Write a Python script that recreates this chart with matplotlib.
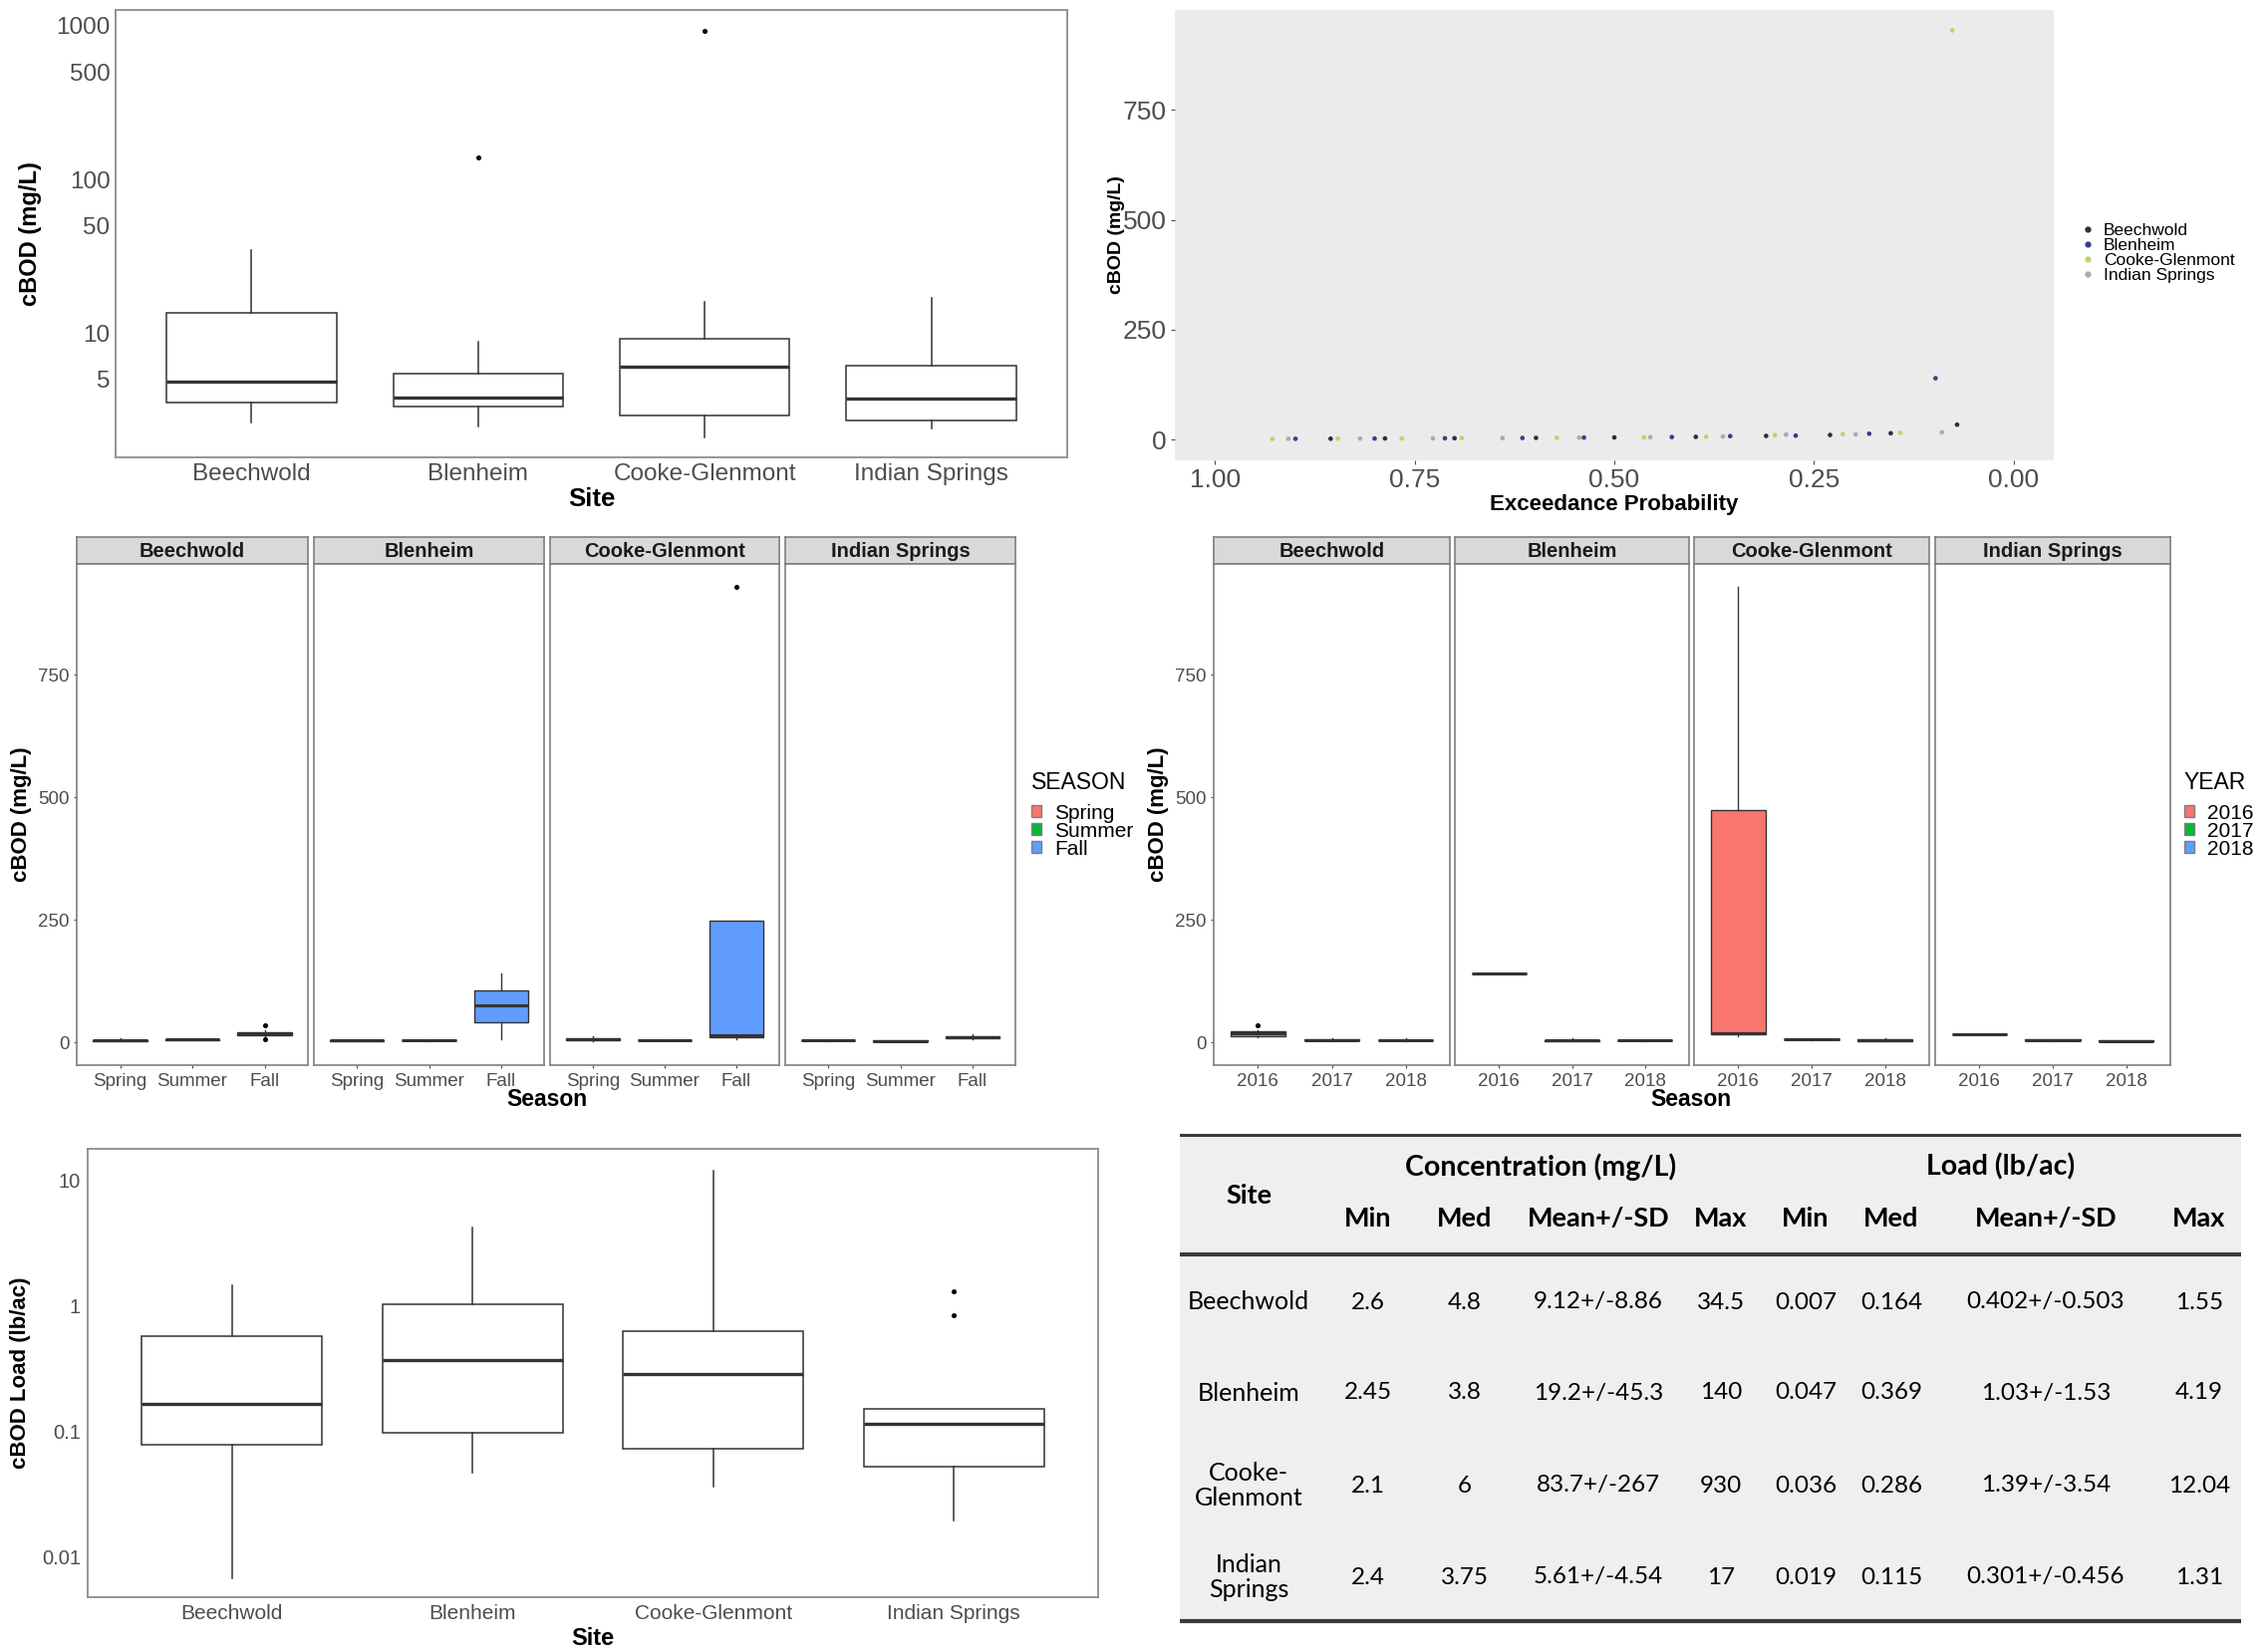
import matplotlib
matplotlib.use("Agg")
import matplotlib.pyplot as plt
from matplotlib.lines import Line2D
from matplotlib.patches import Patch

plt.rcParams["font.family"] = ["Liberation Sans", "DejaVu Sans"]

W, H, DPI = 2276, 1657, 100

sites = ["Beechwold", "Blenheim", "Cooke-Glenmont", "Indian Springs"]

# ---- Panel A: concentration by site (mg/L), log scale
conc_whislo = [2.6, 2.45, 2.1, 2.4]
conc_q1 = [3.5, 3.3, 2.9, 2.7]
conc_med = [4.8, 3.8, 6.0, 3.75]
conc_q3 = [13.5, 5.45, 9.2, 6.1]
conc_whishi = [34.5, 8.8, 16.0, 17.0]
conc_fliers = [[], [140], [930], []]
conc_ticks = [5, 10, 50, 100, 500, 1000]

# ---- Panel B: exceedance probability
exc_prob = [0.928, 0.908, 0.899, 0.855, 0.846, 0.818, 0.800, 0.787, 0.766, 0.727,
            0.712, 0.700, 0.691, 0.640, 0.615, 0.598, 0.572, 0.544, 0.538, 0.500,
            0.463, 0.455, 0.428, 0.398, 0.385, 0.364, 0.355, 0.310, 0.299, 0.285,
            0.273, 0.230, 0.214, 0.198, 0.181, 0.154, 0.142, 0.098, 0.090, 0.077,
            0.071]
exc_value = [2.1, 2.4, 2.45, 2.6, 2.7, 2.9, 3.0, 3.2, 3.3, 3.5,
             3.6, 3.7, 3.8, 4.0, 4.3, 4.5, 4.8, 5.0, 5.2, 5.5,
             5.8, 6.0, 6.4, 6.8, 7.2, 7.8, 8.5, 9.0, 10.5, 12.0,
             9.5, 11.0, 13.0, 12.5, 14.0, 15.0, 16.0, 140.0, 17.0, 930.0,
             34.5]
exc_site = ["Cooke-Glenmont", "Indian Springs", "Blenheim", "Beechwold", "Cooke-Glenmont",
            "Indian Springs", "Blenheim", "Beechwold", "Cooke-Glenmont", "Indian Springs",
            "Blenheim", "Beechwold", "Cooke-Glenmont", "Indian Springs", "Blenheim",
            "Beechwold", "Cooke-Glenmont", "Indian Springs", "Blenheim", "Beechwold",
            "Cooke-Glenmont", "Indian Springs", "Blenheim", "Beechwold", "Cooke-Glenmont",
            "Indian Springs", "Blenheim", "Beechwold", "Cooke-Glenmont", "Indian Springs",
            "Blenheim", "Beechwold", "Cooke-Glenmont", "Indian Springs", "Blenheim",
            "Beechwold", "Cooke-Glenmont", "Blenheim", "Indian Springs", "Cooke-Glenmont",
            "Beechwold"]
site_colors = ["#2E2E3A", "#34408C", "#C9CF63", "#ABABAB"]
exc_xticks = [1.0, 0.75, 0.5, 0.25, 0.0]
exc_xticklabels = ["1.00", "0.75", "0.50", "0.25", "0.00"]
lin_ticks = [0, 250, 500, 750]

# ---- Panel C: concentration by season within site
seasons = ["Spring", "Summer", "Fall"]
season_colors = ["#F8766D", "#00BA38", "#619CFF"]
season_whislo = [[2.6, 4.0, 12.0], [2.45, 3.0, 6.0], [3.0, 3.5, 6.0], [3.0, 2.4, 6.0]]
season_q1 = [[3.2, 4.5, 14.0], [3.0, 3.5, 40.0], [5.0, 4.0, 10.0], [3.5, 2.6, 8.0]]
season_med = [[4.0, 5.5, 17.0], [3.5, 4.2, 75.0], [7.0, 4.5, 15.0], [4.0, 3.0, 10.0]]
season_q3 = [[4.8, 6.5, 20.0], [4.0, 4.8, 107.0], [9.0, 5.0, 248.0], [5.0, 3.5, 13.0]]
season_whishi = [[8.5, 7.0, 24.0], [4.5, 5.5, 140.0], [12.0, 5.5, 248.0], [6.0, 4.0, 17.0]]
season_fliers = [[[], [], [34.5, 5.5]], [[], [], []], [[], [], [930]], [[], [], []]]

# ---- Panel D: concentration by year within site
years = ["2016", "2017", "2018"]
year_colors = ["#F8766D", "#00BA38", "#619CFF"]
year_whislo = [[10.0, 2.6, 3.0], [140.0, 2.45, 3.0], [12.0, 5.0, 2.1], [17.0, 3.0, 2.4]]
year_q1 = [[13.0, 4.0, 3.5], [140.0, 3.0, 3.5], [16.0, 5.5, 2.5], [17.0, 4.0, 2.6]]
year_med = [[18.0, 5.0, 4.2], [140.0, 3.8, 4.0], [18.0, 6.0, 4.0], [17.0, 5.0, 3.0]]
year_q3 = [[22.0, 6.0, 5.0], [140.0, 4.5, 4.5], [474.0, 6.5, 6.0], [17.0, 6.0, 3.5]]
year_whishi = [[25.0, 9.0, 8.0], [140.0, 9.0, 5.0], [930.0, 7.0, 8.0], [17.0, 7.0, 4.0]]
year_fliers = [[[34.5], [], []], [[], [], []], [[], [], []], [[], [], []]]

# ---- Panel E: load by site (lb/ac), log scale
load_whislo = [0.0067, 0.047, 0.036, 0.0195]
load_q1 = [0.0776, 0.0975, 0.072, 0.052]
load_med = [0.164, 0.369, 0.286, 0.115]
load_q3 = [0.578, 1.03, 0.625, 0.15]
load_whishi = [1.47, 4.19, 12.04, 0.15]
load_fliers = [[], [], [], [1.31, 0.85]]
load_ticks = [0.01, 0.1, 1, 10]
load_ticklabels = ["0.01", "0.1", "1", "10"]

# ---- Panel F: summary table
tbl_sites = ["Beechwold", "Blenheim", "Cooke-\nGlenmont", "Indian\nSprings"]
tbl_c_min = ["2.6", "2.45", "2.1", "2.4"]
tbl_c_med = ["4.8", "3.8", "6", "3.75"]
tbl_c_mean = ["9.12+/-8.86", "19.2+/-45.3", "83.7+/-267", "5.61+/-4.54"]
tbl_c_max = ["34.5", "140", "930", "17"]
tbl_l_min = ["0.007", "0.047", "0.036", "0.019"]
tbl_l_med = ["0.164", "0.369", "0.286", "0.115"]
tbl_l_mean = ["0.402+/-0.503", "1.03+/-1.53", "1.39+/-3.54", "0.301+/-0.456"]
tbl_l_max = ["1.55", "4.19", "12.04", "1.31"]
tbl_subheads = ["Min", "Med", "Mean+/-SD", "Max", "Min", "Med", "Mean+/-SD", "Max"]

TICK_C = "#4D4D4D"
FRAME_C = "#8C8C8C"
BOX_C = "#333333"

fig = plt.figure(figsize=(W / DPI, H / DPI), dpi=DPI)
fig.patch.set_facecolor("white")


def px_axes(x0, y0, x1, y1, **kw):
    return fig.add_axes([x0 / W, 1 - y1 / H, (x1 - x0) / W, (y1 - y0) / H], **kw)


def stats(lo, q1, med, q3, hi, fl):
    return [dict(whislo=a, q1=b, med=c, q3=d, whishi=e, fliers=f)
            for a, b, c, d, e, f in zip(lo, q1, med, q3, hi, fl)]


def frame(ax, color=FRAME_C, lw=1.3):
    for s in ax.spines.values():
        s.set_color(color)
        s.set_linewidth(lw)


def draw_box(ax, st, colors=None, width=0.75, lw=1.1, medlw=2.4):
    b = ax.bxp(st, positions=range(1, len(st) + 1), widths=width, patch_artist=True,
               showfliers=True, showcaps=False,
               boxprops=dict(linewidth=lw, edgecolor=BOX_C, facecolor="white"),
               whiskerprops=dict(linewidth=lw, color=BOX_C),
               medianprops=dict(linewidth=medlw, color=BOX_C),
               flierprops=dict(marker="o", markersize=2.6, markerfacecolor="black",
                               markeredgecolor="black"))
    if colors is not None:
        for p, c in zip(b["boxes"], colors):
            p.set_facecolor(c)
    return b


# ================= Panel A =================
axA = px_axes(116, 10, 1071, 459)
draw_box(axA, stats(conc_whislo, conc_q1, conc_med, conc_q3, conc_whishi, conc_fliers))
axA.set_yscale("log")
axA.set_ylim(1.55, 1270)
axA.set_xlim(0.4, 4.6)
axA.set_yticks(conc_ticks)
axA.set_yticklabels([str(t) for t in conc_ticks])
axA.minorticks_off()
axA.set_xticks(range(1, 5))
axA.set_xticklabels(sites)
axA.tick_params(length=0, labelsize=17.5, colors=TICK_C, pad=4)
axA.tick_params(axis="y", labelsize=17.5)
frame(axA)
axA.set_xlabel("Site", fontsize=18.5, fontweight="bold", labelpad=2)
axA.set_ylabel("cBOD (mg/L)", fontsize=17, fontweight="bold", labelpad=10)

# ================= Panel B =================
axB = px_axes(1179, 10, 2061, 462)
axB.set_facecolor("#EBEBEB")
for s, c in zip(sites, site_colors):
    xs = [p for p, ss in zip(exc_prob, exc_site) if ss == s]
    ys = [v for v, ss in zip(exc_value, exc_site) if ss == s]
    axB.scatter(xs, ys, s=11, color=c, edgecolors="none", label=s, zorder=3)
axB.set_xlim(1.05, -0.05)
axB.set_ylim(-46.5, 976.5)
axB.set_xticks(exc_xticks)
axB.set_xticklabels(exc_xticklabels)
axB.set_yticks(lin_ticks)
for s in axB.spines.values():
    s.set_visible(False)
axB.tick_params(length=3, colors=TICK_C, labelsize=19, pad=3)
axB.set_xlabel("Exceedance Probability", fontsize=16, fontweight="bold", labelpad=1)
axB.set_ylabel("cBOD (mg/L)", fontsize=14, fontweight="bold", labelpad=-2)
legB = axB.legend(handles=[Line2D([], [], marker="o", linestyle="none", markersize=3.5,
                                  color=c, label=s) for s, c in zip(sites, site_colors)],
                  loc="upper left", bbox_to_anchor=(2078 / W, 1 - 215 / H),
                  bbox_transform=fig.transFigure, frameon=False, fontsize=12.5,
                  labelspacing=0.0, handletextpad=0.4, handlelength=1.0, borderpad=0)


# ================= Facet panels C & D =================
def facets(xranges, groups, colors, lo, q1, med, q3, hi, fl):
    axs = []
    for i, (x0, x1) in enumerate(xranges):
        strip = px_axes(x0, 539, x1, 566)
        strip.set_facecolor("#D9D9D9")
        strip.set_xticks([])
        strip.set_yticks([])
        frame(strip, color="#7F7F7F", lw=1.2)
        strip.text(0.5, 0.45, sites[i], transform=strip.transAxes, ha="center", va="center",
                   fontsize=14.5, fontweight="bold", color="#1A1A1A")
        ax = px_axes(x0, 566, x1, 1069)
        draw_box(ax, stats(lo[i], q1[i], med[i], q3[i], hi[i], fl[i]), colors=colors,
                 width=0.75, lw=1.0, medlw=2.2)
        ax.set_xlim(0.4, 3.6)
        ax.set_ylim(-46.5, 976.5)
        ax.set_xticks(range(1, 4))
        ax.set_xticklabels(groups)
        ax.set_yticks(lin_ticks)
        ax.tick_params(length=2.5, colors=TICK_C, labelsize=13.5, pad=3)
        if i > 0:
            ax.tick_params(axis="y", labelleft=False, length=0)
        frame(ax, color="#7F7F7F", lw=1.2)
        axs.append(ax)
    return axs


C_x = [(77, 309), (315, 546), (552, 782), (788, 1019)]
D_x = [(1218, 1455), (1460, 1695), (1700, 1936), (1942, 2178)]
axC = facets(C_x, seasons, season_colors, season_whislo, season_q1, season_med,
             season_q3, season_whishi, season_fliers)
axD = facets(D_x, years, year_colors, year_whislo, year_q1, year_med,
             year_q3, year_whishi, year_fliers)
axC[0].set_ylabel("cBOD (mg/L)", fontsize=16, fontweight="bold", labelpad=4)
axD[0].set_ylabel("cBOD (mg/L)", fontsize=16, fontweight="bold", labelpad=4)
fig.text(549 / W, 1 - 1104 / H, "Season", ha="center", va="center", fontsize=16.5,
         fontweight="bold")
fig.text(1697 / W, 1 - 1104 / H, "Season", ha="center", va="center", fontsize=16.5,
         fontweight="bold")


def box_legend(title, labels, colors, x, y):
    lg = fig.legend(handles=[Patch(facecolor=c, edgecolor="#7F7F7F", label=l)
                             for l, c in zip(labels, colors)],
                    title=title, loc="upper left", bbox_to_anchor=(x / W, 1 - y / H),
                    frameon=False, fontsize=15, title_fontsize=16.5, alignment="left",
                    handlelength=0.5, handleheight=0.5, handletextpad=0.6,
                    labelspacing=-0.05, borderpad=0, borderaxespad=0)
    lg._legend_box.sep = 7
    return lg


box_legend("SEASON", seasons, season_colors, 1035, 774)
box_legend("YEAR", years, year_colors, 2192, 774)

# ================= Panel E =================
axE = px_axes(88, 1153, 1102, 1603)
draw_box(axE, stats(load_whislo, load_q1, load_med, load_q3, load_whishi, load_fliers))
axE.set_yscale("log")
axE.set_ylim(0.00473, 17.96)
axE.set_xlim(0.4, 4.6)
axE.set_yticks(load_ticks)
axE.set_yticklabels(load_ticklabels)
axE.minorticks_off()
axE.set_xticks(range(1, 5))
axE.set_xticklabels(sites)
axE.tick_params(length=0, labelsize=15, colors=TICK_C, pad=5)
axE.tick_params(axis="y", labelsize=14.5)
frame(axE)
axE.set_xlabel("Site", fontsize=17, fontweight="bold", labelpad=3)
axE.set_ylabel("cBOD Load (lb/ac)", fontsize=16, fontweight="bold", labelpad=8)

# ================= Panel F: table =================
axT = px_axes(1184, 1130, 2249, 1640)
axT.set_xlim(1184, 2249)
axT.set_ylim(1640, 1130)
axT.axis("off")
axT.axhspan(1139, 1627, color="#EFEFEF", zorder=0)
axT.axhline(1139, color="#3A3A3A", lw=2.2)
axT.axhline(1259, color="#3A3A3A", lw=3)
axT.axhline(1627, color="#3A3A3A", lw=3)
tf = ["Lato", "DejaVu Sans"]
col_x = [1373, 1470, 1604, 1727, 1812, 1898, 2053, 2207]
axT.text(1253, 1200, "Site", ha="center", va="center", fontsize=19.5, fontweight="bold",
         family=tf)
axT.text(1546, 1171, "Concentration (mg/L)", ha="center", va="center", fontsize=20.5,
         fontweight="bold", family=tf)
axT.text(2008, 1171, "Load (lb/ac)", ha="center", va="center", fontsize=20.5,
         fontweight="bold", family=tf)
for x, s in zip(col_x, tbl_subheads):
    axT.text(x, 1223, s, ha="center", va="center", fontsize=19.5, fontweight="bold", family=tf)
row_y = [1307, 1398, 1491, 1583]
cols = [tbl_c_min, tbl_c_med, tbl_c_mean, tbl_c_max, tbl_l_min, tbl_l_med, tbl_l_mean,
        tbl_l_max]
for r, y in enumerate(row_y):
    axT.text(1253, y, tbl_sites[r], ha="center", va="center", fontsize=18, family=tf,
             linespacing=1.15)
    for x, col in zip(col_x, cols):
        axT.text(x, y, col[r], ha="center", va="center", fontsize=17.5, family=tf)

fig.savefig("out.png", dpi=DPI, facecolor="white")
